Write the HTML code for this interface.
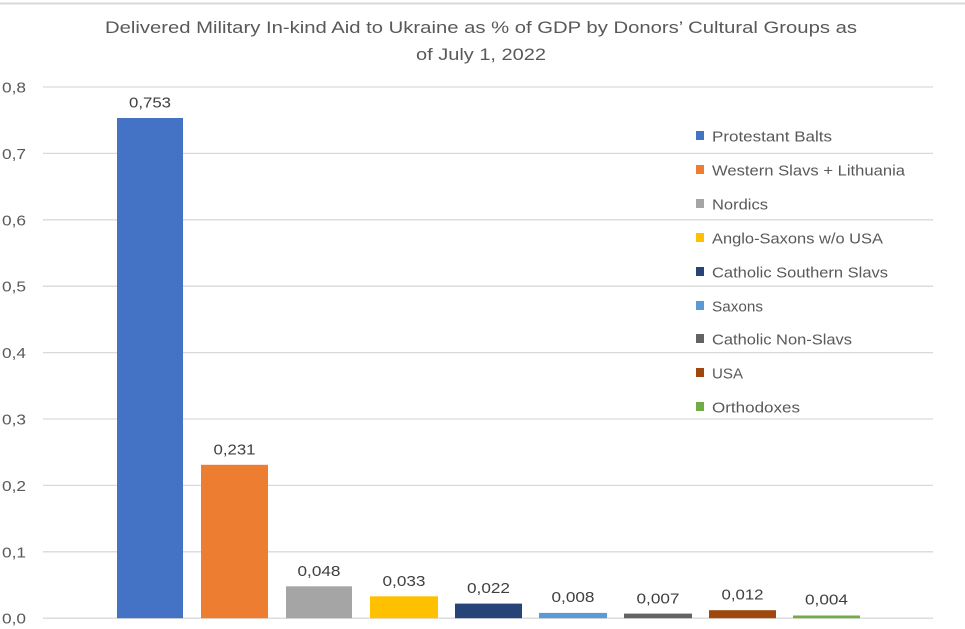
<!DOCTYPE html>
<html>
<head>
<meta charset="utf-8">
<style>
  html, body { margin: 0; padding: 0; background: #ffffff; }
  svg { display: block; }
  text { font-family: "Liberation Sans", sans-serif; }
</style>
</head>
<body>
<svg width="965" height="629" viewBox="0 0 965 629" xmlns="http://www.w3.org/2000/svg">
  <rect x="0" y="0" width="965" height="629" fill="#ffffff"/>
  <!-- top border -->
  <line x1="0" y1="3.5" x2="965" y2="3.5" stroke="#d9d9d9" stroke-width="2"/>

  <!-- Title -->
  <text x="481" y="33" font-size="16.5" fill="#595959" text-anchor="middle" textLength="752" lengthAdjust="spacingAndGlyphs">Delivered Military In-kind Aid to Ukraine as % of GDP by Donors’ Cultural Groups as</text>
  <text x="481" y="60" font-size="16.5" fill="#595959" text-anchor="middle" textLength="130" lengthAdjust="spacingAndGlyphs">of July 1, 2022</text>

  <!-- Gridlines -->
  <g stroke="#d9d9d9" stroke-width="1.3">
    <line x1="43" y1="87" x2="933" y2="87"/>
    <line x1="43" y1="153.4" x2="933" y2="153.4"/>
    <line x1="43" y1="219.8" x2="933" y2="219.8"/>
    <line x1="43" y1="286.2" x2="933" y2="286.2"/>
    <line x1="43" y1="352.6" x2="933" y2="352.6"/>
    <line x1="43" y1="419" x2="933" y2="419"/>
    <line x1="43" y1="485.4" x2="933" y2="485.4"/>
    <line x1="43" y1="551.8" x2="933" y2="551.8"/>
    <line x1="43" y1="618.2" x2="933" y2="618.2"/>
  </g>

  <!-- Y labels -->
  <g font-size="15" fill="#595959">
    <text x="2" y="92.5" textLength="24" lengthAdjust="spacingAndGlyphs">0,8</text>
    <text x="2" y="158.9" textLength="24" lengthAdjust="spacingAndGlyphs">0,7</text>
    <text x="2" y="225.3" textLength="24" lengthAdjust="spacingAndGlyphs">0,6</text>
    <text x="2" y="291.7" textLength="24" lengthAdjust="spacingAndGlyphs">0,5</text>
    <text x="2" y="358.1" textLength="24" lengthAdjust="spacingAndGlyphs">0,4</text>
    <text x="2" y="424.5" textLength="24" lengthAdjust="spacingAndGlyphs">0,3</text>
    <text x="2" y="490.9" textLength="24" lengthAdjust="spacingAndGlyphs">0,2</text>
    <text x="2" y="557.3" textLength="24" lengthAdjust="spacingAndGlyphs">0,1</text>
    <text x="2" y="623.7" textLength="24" lengthAdjust="spacingAndGlyphs">0,0</text>
  </g>

  <!-- Bars -->
  <rect x="117" y="118" width="66" height="500.2" fill="#4472C4"/>
  <rect x="201" y="464.8" width="67" height="153.4" fill="#ED7D31"/>
  <rect x="286" y="586.3" width="66" height="31.9" fill="#A5A5A5"/>
  <rect x="370" y="596.3" width="68" height="21.9" fill="#FFC000"/>
  <rect x="455" y="603.6" width="67" height="14.6" fill="#264478"/>
  <rect x="539" y="612.9" width="68" height="5.3" fill="#5B9BD5"/>
  <rect x="624" y="613.6" width="68" height="4.6" fill="#636363"/>
  <rect x="709" y="610.2" width="67" height="8" fill="#9E480E"/>
  <rect x="793" y="615.5" width="67" height="2.7" fill="#70AD47"/>

  <!-- Value labels -->
  <g font-size="15" fill="#404040" text-anchor="middle">
    <text x="150" y="107.5" textLength="42" lengthAdjust="spacingAndGlyphs">0,753</text>
    <text x="234.5" y="454.5" textLength="42" lengthAdjust="spacingAndGlyphs">0,231</text>
    <text x="319" y="576" textLength="43" lengthAdjust="spacingAndGlyphs">0,048</text>
    <text x="404" y="586" textLength="43" lengthAdjust="spacingAndGlyphs">0,033</text>
    <text x="488.5" y="593" textLength="43" lengthAdjust="spacingAndGlyphs">0,022</text>
    <text x="573" y="602" textLength="43" lengthAdjust="spacingAndGlyphs">0,008</text>
    <text x="658" y="603.5" textLength="43" lengthAdjust="spacingAndGlyphs">0,007</text>
    <text x="742.5" y="599.5" textLength="42" lengthAdjust="spacingAndGlyphs">0,012</text>
    <text x="826.5" y="604.5" textLength="43" lengthAdjust="spacingAndGlyphs">0,004</text>
  </g>

  <!-- Legend -->
  <g font-size="15" fill="#595959">
    <rect x="696" y="131" width="8" height="9" fill="#4472C4"/>
    <text x="712" y="141.5" textLength="120" lengthAdjust="spacingAndGlyphs">Protestant Balts</text>
    <rect x="696" y="165" width="8" height="9" fill="#ED7D31"/>
    <text x="712" y="175.5" textLength="193" lengthAdjust="spacingAndGlyphs">Western Slavs + Lithuania</text>
    <rect x="696" y="199" width="8" height="9" fill="#A5A5A5"/>
    <text x="712" y="209.5" textLength="56" lengthAdjust="spacingAndGlyphs">Nordics</text>
    <rect x="696" y="233" width="8" height="9" fill="#FFC000"/>
    <text x="712" y="243.5" textLength="171" lengthAdjust="spacingAndGlyphs">Anglo-Saxons w/o USA</text>
    <rect x="696" y="267" width="8" height="9" fill="#264478"/>
    <text x="712" y="277.5" textLength="176" lengthAdjust="spacingAndGlyphs">Catholic Southern Slavs</text>
    <rect x="696" y="301" width="8" height="9" fill="#5B9BD5"/>
    <text x="712" y="311.5" textLength="51" lengthAdjust="spacingAndGlyphs">Saxons</text>
    <rect x="696" y="334" width="8" height="9" fill="#636363"/>
    <text x="712" y="344.5" textLength="140" lengthAdjust="spacingAndGlyphs">Catholic Non-Slavs</text>
    <rect x="696" y="368" width="8" height="9" fill="#9E480E"/>
    <text x="712" y="378.5" textLength="31" lengthAdjust="spacingAndGlyphs">USA</text>
    <rect x="696" y="402" width="8" height="9" fill="#70AD47"/>
    <text x="712" y="412.5" textLength="88" lengthAdjust="spacingAndGlyphs">Orthodoxes</text>
  </g>
</svg>
</body>
</html>
